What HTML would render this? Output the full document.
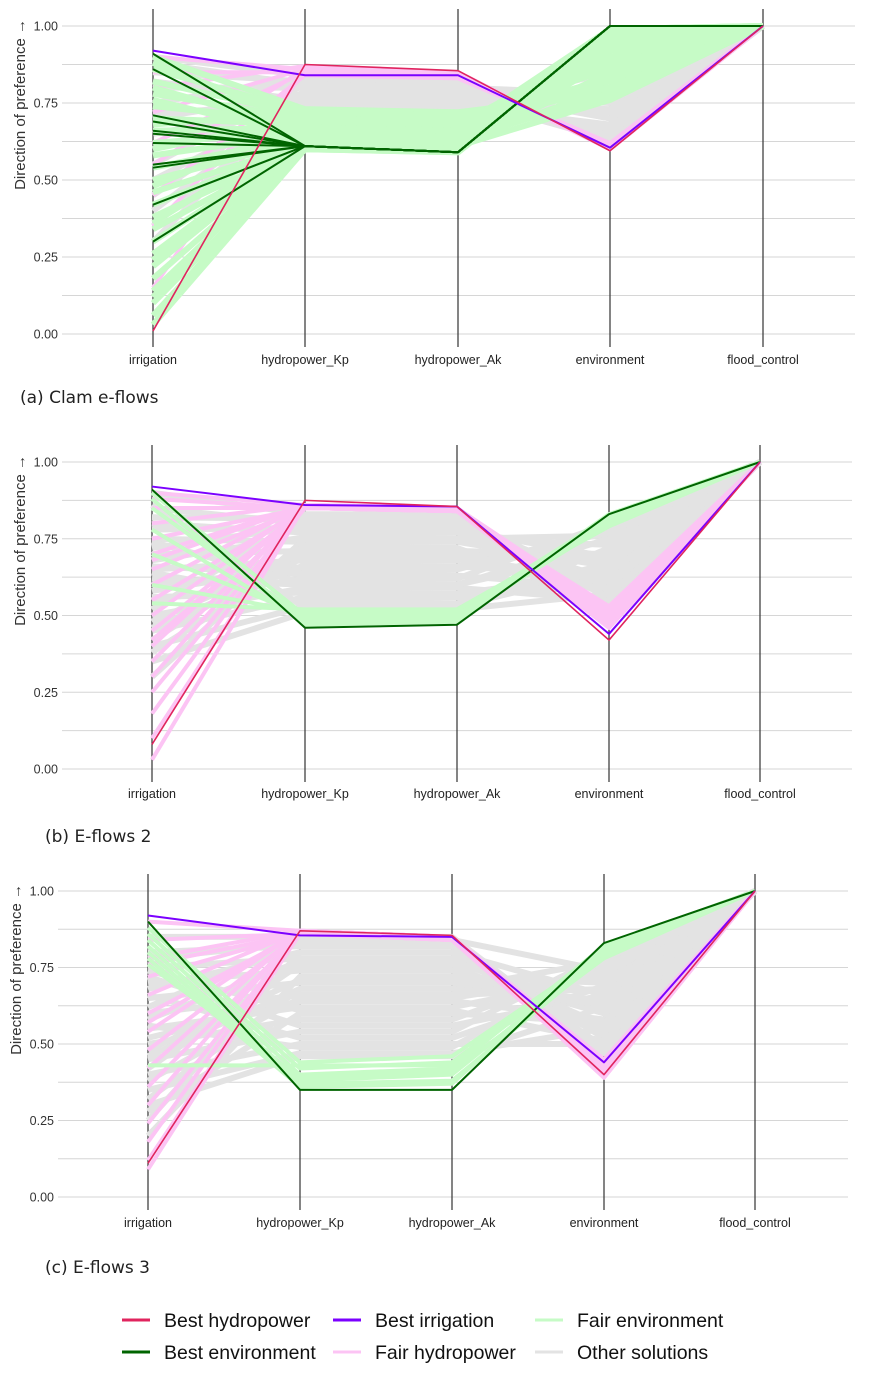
<!DOCTYPE html>
<html><head><meta charset="utf-8"><style>
body{margin:0;background:#fff;}
svg{display:block;font-family:"Liberation Sans",sans-serif;}
</style></head><body>
<svg id="chart" width="871" height="1374" viewBox="0 0 871 1374" xmlns="http://www.w3.org/2000/svg">
<rect width="871" height="1374" fill="#fff"/>
</svg>
<script>
// axes
const axisNames = ["irrigation","hydropower_Kp","hydropower_Ak","environment","flood_control"];
const yTicks = [0,0.25,0.5,0.75,1];
const yTickLabels = ["0.00","0.25","0.50","0.75","1.00"];
const captions = ["(a) Clam e-flows","(b) E-flows 2","(c) E-flows 3"];

// Panel A data (rows: irrigation, Kp, Ak, environment, flood)
const aOther = [[0.9,0.84,0.83,0.62,1],[0.85,0.82,0.81,0.65,1],[0.8,0.8,0.79,0.7,1],[0.7,0.78,0.77,0.75,1],[0.6,0.76,0.76,0.8,1],[0.5,0.75,0.74,0.68,1],[0.4,0.77,0.76,0.72,1],[0.3,0.79,0.78,0.66,1],[0.88,0.81,0.8,0.78,1],[0.65,0.74,0.73,0.85,1],[0.75,0.83,0.82,0.64,1],[0.55,0.81,0.8,0.7,1],[0.45,0.79,0.79,0.76,1],[0.35,0.77,0.77,0.63,1],[0.82,0.76,0.75,0.67,1],[0.72,0.74,0.74,0.73,1]];
const aFairHp = [[0.9,0.86,0.85,0.6,1],[0.85,0.85,0.84,0.61,1],[0.8,0.87,0.85,0.6,1],[0.72,0.86,0.84,0.6,1],[0.62,0.85,0.84,0.61,1],[0.55,0.86,0.85,0.6,1],[0.45,0.84,0.83,0.62,1],[0.35,0.85,0.84,0.6,1],[0.15,0.86,0.85,0.6,1]];
const aFairEnv = [[0.9,0.73,0.72,0.78,1],[0.86,0.72,0.71,0.82,1],[0.82,0.71,0.7,0.86,1],[0.78,0.7,0.69,0.9,1],[0.74,0.69,0.68,0.94,1],[0.7,0.68,0.67,0.97,1],[0.66,0.67,0.66,0.99,1],[0.62,0.66,0.65,0.92,1],[0.58,0.65,0.64,0.88,1],[0.54,0.64,0.63,0.84,1],[0.5,0.63,0.62,0.8,1],[0.46,0.62,0.61,0.76,1],[0.42,0.62,0.61,0.96,1],[0.38,0.61,0.6,0.98,1],[0.34,0.61,0.6,0.93,1],[0.3,0.62,0.6,0.89,1],[0.26,0.63,0.61,0.85,1],[0.22,0.62,0.6,0.95,1],[0.18,0.61,0.6,0.99,1],[0.14,0.61,0.6,0.97,1],[0.1,0.6,0.6,0.94,1],[0.06,0.6,0.59,0.99,1],[0.03,0.6,0.59,0.98,1],[0.88,0.69,0.68,0.8,1],[0.8,0.66,0.65,0.76,1],[0.76,0.64,0.63,0.78,1],[0.68,0.72,0.71,0.8,1],[0.6,0.7,0.69,0.83,1],[0.48,0.69,0.68,0.87,1],[0.36,0.67,0.66,0.9,1],[0.24,0.65,0.64,0.92,1],[0.12,0.64,0.62,0.95,1]];
const aBestEnv = [[0.91,0.61,0.59,1,1],[0.86,0.61,0.59,1,1],[0.71,0.61,0.59,1,1],[0.69,0.61,0.59,1,1],[0.66,0.61,0.59,1,1],[0.65,0.61,0.59,1,1],[0.62,0.61,0.59,1,1],[0.55,0.61,0.59,1,1],[0.54,0.61,0.59,1,1],[0.42,0.61,0.59,1,1],[0.3,0.61,0.59,1,1]];
const aBestIrr = [[0.92,0.84,0.84,0.605,1]];
const aBestHp = [[0.01,0.875,0.855,0.595,1]];

// Panel B data
const bOther = [[0.9,0.83,0.83,0.52,1],[0.85,0.8,0.8,0.58,1],[0.8,0.77,0.77,0.62,1],[0.75,0.74,0.74,0.66,1],[0.7,0.71,0.71,0.7,1],[0.65,0.68,0.68,0.74,1],[0.6,0.65,0.65,0.78,1],[0.55,0.62,0.62,0.8,1],[0.5,0.59,0.59,0.55,1],[0.45,0.56,0.56,0.6,1],[0.4,0.53,0.53,0.65,1],[0.35,0.51,0.51,0.72,1],[0.3,0.75,0.75,0.76,1],[0.52,0.82,0.82,0.5,1],[0.48,0.7,0.7,0.68,1],[0.62,0.6,0.6,0.75,1],[0.72,0.79,0.79,0.56,1],[0.58,0.66,0.66,0.63,1],[0.82,0.815,0.81,0.6,1],[0.78,0.785,0.78,0.69,1],[0.68,0.755,0.75,0.73,1],[0.42,0.725,0.72,0.54,1],[0.38,0.695,0.69,0.61,1],[0.46,0.665,0.66,0.77,1],[0.66,0.635,0.63,0.59,1],[0.74,0.605,0.6,0.71,1],[0.56,0.575,0.57,0.64,1],[0.64,0.545,0.54,0.67,1],[0.86,0.525,0.52,0.57,1]];
const bFairHp = [[0.9,0.86,0.85,0.48,1],[0.85,0.85,0.85,0.5,1],[0.8,0.86,0.85,0.52,1],[0.75,0.85,0.84,0.47,1],[0.7,0.86,0.85,0.5,1],[0.65,0.85,0.84,0.53,1],[0.6,0.86,0.85,0.49,1],[0.55,0.85,0.84,0.46,1],[0.5,0.86,0.85,0.51,1],[0.45,0.85,0.84,0.48,1],[0.4,0.86,0.85,0.5,1],[0.35,0.85,0.84,0.52,1],[0.3,0.86,0.85,0.47,1],[0.25,0.85,0.84,0.5,1],[0.18,0.86,0.85,0.49,1],[0.1,0.86,0.85,0.46,1],[0.03,0.86,0.85,0.48,1],[0.88,0.85,0.84,0.53,1],[0.68,0.86,0.85,0.5,1],[0.42,0.85,0.84,0.48,1]];
const bFairEnv = [[0.9,0.5,0.51,0.82,1],[0.85,0.49,0.5,0.81,1],[0.78,0.48,0.49,0.8,1],[0.7,0.5,0.5,0.82,1],[0.6,0.51,0.52,0.8,1],[0.54,0.52,0.52,0.79,1],[0.88,0.47,0.48,0.83,1]];
const bBestEnv = [[0.91,0.46,0.47,0.83,1]];
const bBestIrr = [[0.92,0.86,0.855,0.44,1]];
const bBestHp = [[0.08,0.875,0.855,0.42,1]];

// Panel C data
const cOther = [[0.85,0.85,0.85,0.47,1],[0.8,0.82,0.82,0.52,1],[0.75,0.78,0.78,0.56,1],[0.7,0.74,0.74,0.6,1],[0.65,0.7,0.7,0.64,1],[0.6,0.66,0.66,0.68,1],[0.55,0.62,0.62,0.72,1],[0.5,0.58,0.58,0.76,1],[0.45,0.54,0.54,0.79,1],[0.4,0.5,0.5,0.5,1],[0.35,0.47,0.47,0.55,1],[0.3,0.46,0.46,0.62,1],[0.25,0.8,0.8,0.66,1],[0.2,0.72,0.72,0.7,1],[0.62,0.84,0.84,0.74,1],[0.52,0.64,0.64,0.58,1],[0.72,0.56,0.56,0.66,1],[0.42,0.76,0.76,0.53,1],[0.32,0.68,0.68,0.77,1],[0.78,0.83,0.83,0.49,1],[0.68,0.8,0.8,0.54,1],[0.58,0.77,0.77,0.61,1],[0.48,0.71,0.71,0.67,1],[0.38,0.65,0.65,0.73,1],[0.28,0.6,0.6,0.57,1],[0.66,0.52,0.52,0.69,1],[0.56,0.49,0.49,0.75,1],[0.74,0.61,0.61,0.51,1],[0.46,0.68,0.68,0.63,1]];
const cFairHp = [[0.9,0.87,0.85,0.42,1],[0.84,0.86,0.85,0.44,1],[0.78,0.87,0.85,0.4,1],[0.72,0.86,0.84,0.43,1],[0.66,0.87,0.85,0.41,1],[0.6,0.86,0.84,0.44,1],[0.54,0.87,0.85,0.39,1],[0.48,0.86,0.84,0.42,1],[0.42,0.87,0.85,0.44,1],[0.36,0.86,0.84,0.4,1],[0.3,0.87,0.85,0.43,1],[0.24,0.86,0.84,0.41,1],[0.18,0.87,0.85,0.42,1],[0.12,0.86,0.84,0.4,1],[0.09,0.87,0.85,0.39,1],[0.76,0.86,0.85,0.45,1],[0.57,0.87,0.85,0.41,1]];
const cFairEnv = [[0.88,0.44,0.46,0.8,1],[0.86,0.42,0.44,0.81,1],[0.84,0.4,0.42,0.82,1],[0.82,0.38,0.4,0.8,1],[0.8,0.37,0.38,0.79,1],[0.78,0.36,0.37,0.82,1],[0.76,0.39,0.41,0.78,1],[0.43,0.43,0.43,0.8,1]];
const cBestEnv = [[0.9,0.35,0.35,0.83,1]];
const cBestIrr = [[0.92,0.855,0.85,0.44,1]];
const cBestHp = [[0.11,0.87,0.855,0.40,1]];

const panels = [
  {name:"panel-a", y1:26, y0:334, xs:[153,305,458,610,763], gl:62, gr:855, lab:360, cx:20, cy:403, tx:58, titleX:25,
   other:aOther, fairHp:aFairHp, fairEnv:aFairEnv, bestEnv:aBestEnv, bestIrr:aBestIrr, bestHp:aBestHp, envOnTop:true},
  {name:"panel-b", y1:462, y0:769, xs:[152,305,457,609,760], gl:62, gr:852, lab:794, cx:45, cy:842, tx:58, titleX:25,
   other:bOther, fairHp:bFairHp, fairEnv:bFairEnv, bestEnv:bBestEnv, bestIrr:bBestIrr, bestHp:bBestHp},
  {name:"panel-c", y1:891, y0:1197, xs:[148,300,452,604,755], gl:58, gr:848, lab:1223, cx:45, cy:1273, tx:54, titleX:21,
   other:cOther, fairHp:cFairHp, fairEnv:cFairEnv, bestEnv:cBestEnv, bestIrr:cBestIrr, bestHp:cBestHp}
];
const colors = {bestHp:"#e0245e", bestIrr:"#7b00ff", bestEnv:"#006400", fairEnv:"#c6fbc6", fairHp:"#fcc4f4", other:"#e3e3e3"};
const NS = "http://www.w3.org/2000/svg";
const svg = document.getElementById("chart");
function mk(tag, attrs, parent){const e=document.createElementNS(NS,tag);for(const k in attrs)e.setAttribute(k,attrs[k]);(parent||svg).appendChild(e);return e;}

panels.forEach((p)=>{
  const g = mk("g",{});
  
  
  const yS = v => p.y0 + (p.y1 - p.y0) * v;
  for (let i=0;i<=8;i++){
    const v=i/8;
    const l=mk("line",{x1:p.gl,x2:p.gr,y1:yS(v),y2:yS(v),stroke:"#d6d6d6","stroke-width":1},g);
    
    
  }
  p.xs.forEach((x,i)=>{
    const a=mk("line",{x1:x,x2:x,y1:p.y1-17,y2:p.y0+13,stroke:"#333","stroke-width":1.2},g);
    
    
    const t=mk("text",{x:x,y:p.lab+4,"text-anchor":"middle","font-size":12.5,fill:"#222"},g);
    t.textContent=axisNames[i];
    
    
  });
  yTicks.forEach((v,i)=>{
    const t=mk("text",{x:p.tx,y:yS(v)+4.5,"text-anchor":"end","font-size":12.5,fill:"#333"},g);
    t.textContent=yTickLabels[i];
    
    
  });
  const yt=mk("text",{transform:`translate(${p.titleX},${p.y1-7}) rotate(-90)`,"text-anchor":"end","font-size":15,fill:"#333"},g);
  yt.textContent="Direction of preference \u2192";
  
  
  const drawGroup=(rows,col,w,nm)=>{
    rows.forEach(r=>{
      const pts=r.map((v,i)=>p.xs[i]+","+yS(v)).join(" ");
      const pl=mk("polyline",{points:pts,fill:"none",stroke:col,"stroke-width":w,"stroke-linejoin":"round"},g);
      
      
    });
  };
  drawGroup(p.other,colors.other,6,"other-solution-line");
  drawGroup(p.fairHp,colors.fairHp,4,"fair-hydropower-line");
  drawGroup(p.fairEnv,colors.fairEnv,p.envOnTop?6:4,"fair-environment-line");
  drawGroup(p.bestEnv,colors.bestEnv,2,"best-environment-line");
  drawGroup(p.bestIrr,colors.bestIrr,2,"best-irrigation-line");
  drawGroup(p.bestHp,colors.bestHp,1.6,"best-hydropower-line");
  const c=mk("text",{x:p.cx,y:p.cy,"font-size":17,fill:"#222","font-family":"DejaVu Sans, sans-serif"},g);
  c.textContent=captions[panels.indexOf(p)];
  
  
});

const legendLabels=["Best hydropower","Best irrigation","Fair environment","Best environment","Fair hydropower","Other solutions"];
const legendColors=[colors.bestHp,colors.bestIrr,colors.fairEnv,colors.bestEnv,colors.fairHp,colors.other];
const legendX=[122,333,535];
const lg=mk("g",{});


legendLabels.forEach((lab,i)=>{
  const col=i%3,row=Math.floor(i/3);
  const y=1321+row*32;
  const it=mk("g",{},lg);
  
  
  mk("line",{x1:legendX[col],x2:legendX[col]+28,y1:y-1,y2:y-1,stroke:legendColors[i],"stroke-width":3},it);
  const t=mk("text",{x:legendX[col]+42,y:y+6,"font-size":19.5,fill:"#111"},it);
  t.textContent=lab;
});
</script>
</body></html>
